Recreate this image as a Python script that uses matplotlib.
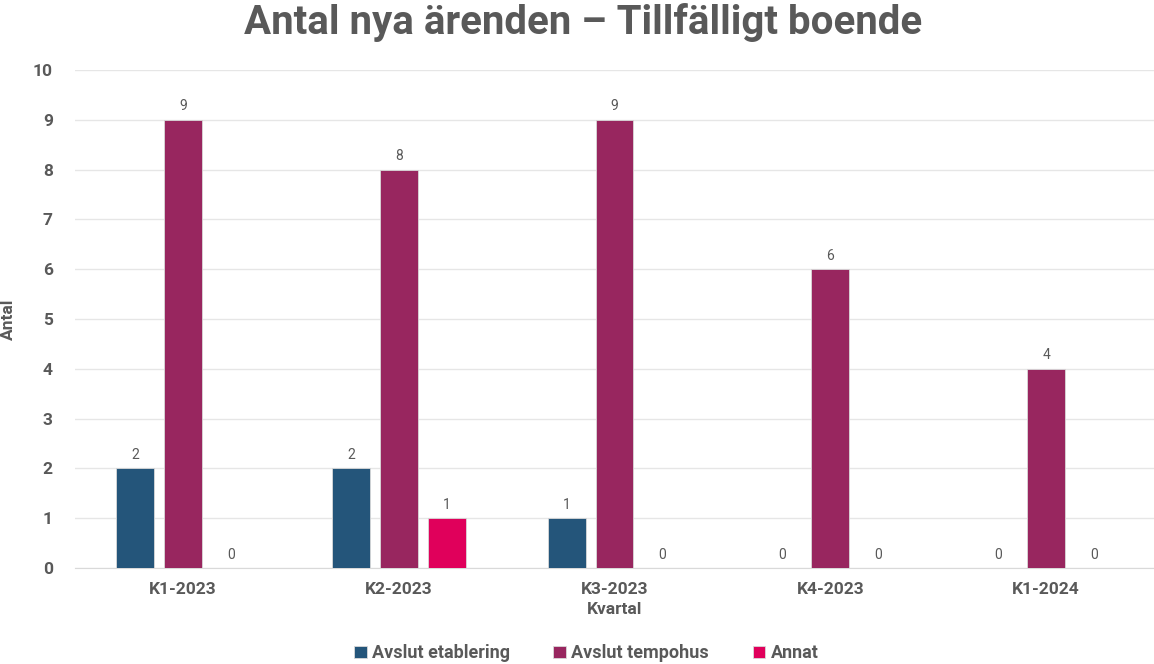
import numpy as np
import matplotlib.pyplot as plt

# Data
kvartal = ["K1-2023", "K2-2023", "K3-2023", "K4-2023", "K1-2024"]
avslut_etablering = [2, 2, 1, 0, 0]
avslut_tempohus = [9, 8, 9, 6, 4]
annat = [0, 1, 0, 0, 0]

serier = ["Avslut etablering", "Avslut tempohus", "Annat"]
farger = ["#24557A", "#98265F", "#E0005B"]
text_gray = "#595959"

plt.rcParams['font.family'] = ['Roboto', 'DejaVu Sans']

fig = plt.figure(figsize=(11.54, 6.64), dpi=100)
ax = fig.add_axes([0.065, 0.1446, 0.935, 0.75])

x = np.arange(len(kvartal))
width = 0.176
offset = 0.222

for i, (vals, namn, farg) in enumerate(zip([avslut_etablering, avslut_tempohus, annat], serier, farger)):
    pos = x + (i - 1) * offset
    bars = ax.bar(pos, vals, width, color=farg, label=namn, edgecolor="#d9d9d9", linewidth=0.6, zorder=3)
    for b, v in zip(bars, vals):
        ax.text(b.get_x() + b.get_width() / 2, v + 0.13, str(v), ha="center", va="bottom",
                fontsize=10, color=text_gray, zorder=4)

ax.set_xlim(-0.5, len(kvartal) - 0.5)
ax.set_ylim(0, 10)
ax.set_yticks(range(0, 11))
ax.set_xticks(x)
ax.set_xticklabels(kvartal)
ax.grid(axis="y", color="#e6e6e6", linewidth=1, zorder=0)
for s in ["top", "right", "left"]:
    ax.spines[s].set_visible(False)
ax.spines["bottom"].set_color("#d9d9d9")
ax.tick_params(axis="both", length=0, labelsize=12.5, labelcolor=text_gray)
for lbl in ax.get_xticklabels() + ax.get_yticklabels():
    lbl.set_fontweight("bold")
ax.tick_params(axis="y", pad=16)
ax.tick_params(axis="x", pad=10)

ax.set_xlabel("Kvartal", fontsize=12.5, fontweight="bold", color=text_gray, labelpad=4)
ax.set_ylabel("Antal", fontsize=12.5, fontweight="bold", color=text_gray, labelpad=12)

fig.suptitle("Antal nya ärenden – Tillfälligt boende", fontsize=29, fontweight="bold",
             color=text_gray, y=0.995, x=0.505)

leg = fig.legend(loc="lower center", bbox_to_anchor=(0.508, -0.022), ncol=3, frameon=False,
                 handlelength=0.7, handleheight=0.7, handletextpad=0.3, columnspacing=2.4,
                 prop={"weight": "bold", "size": 13})
for t in leg.get_texts():
    t.set_color(text_gray)

fig.savefig("out.png", dpi=100)
